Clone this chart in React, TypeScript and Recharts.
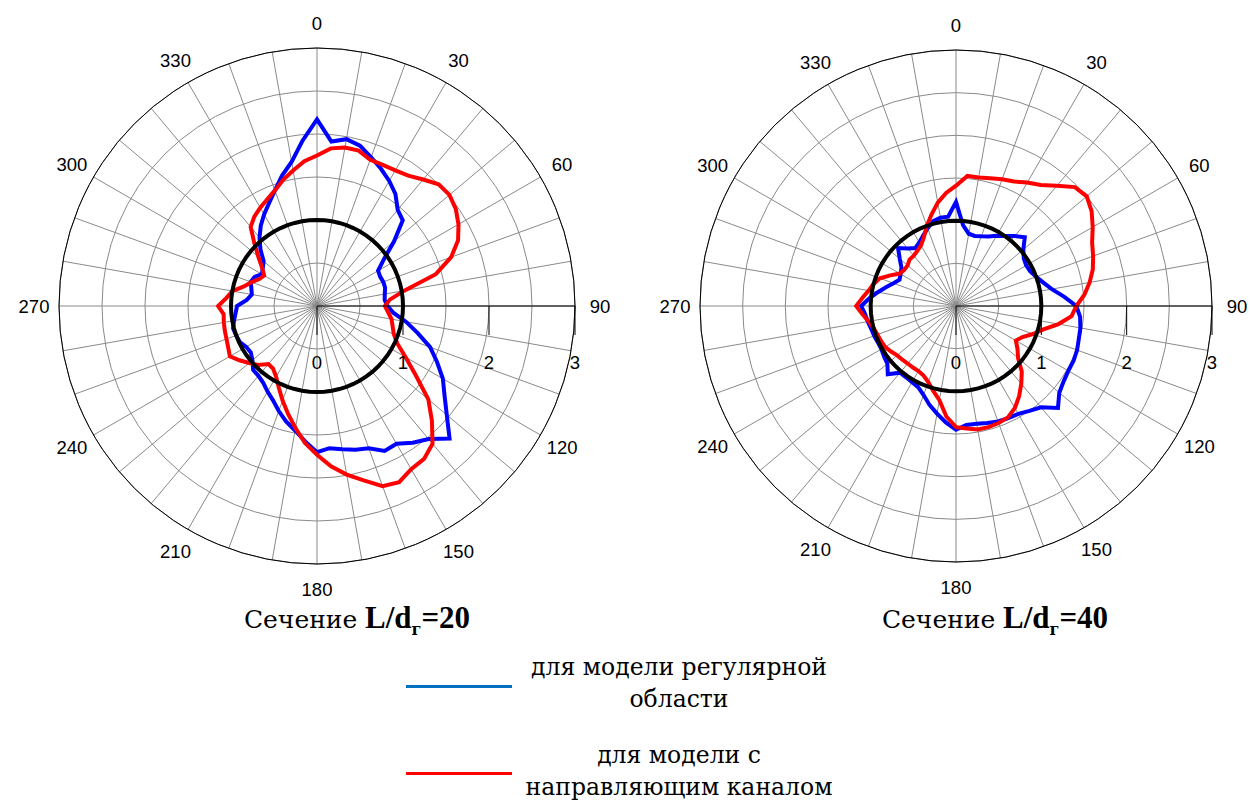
import React from "react";
import { RadarChart, Radar, PolarGrid, PolarAngleAxis, PolarRadiusAxis } from "recharts";

// angles, degrees clockwise from the top
const angles = [
  0, 5, 10, 15, 20, 25, 30, 35, 40, 45, 50, 55, 60, 65, 70, 75, 80, 85,
  90, 95, 100, 105, 110, 115, 120, 125, 130, 135, 140, 145, 150, 155, 160, 165, 170, 175,
  180, 185, 190, 195, 200, 205, 210, 215, 220, 225, 230, 235, 240, 245, 250, 255, 260, 265,
  270, 275, 280, 285, 290, 295, 300, 305, 310, 315, 320, 325, 330, 335, 340, 345, 350, 355,
];

const angleTicks = [0, 30, 60, 90, 120, 150, 180, 210, 240, 270, 300, 330];
const gridAngles = [0, 10, 20, 30, 40, 50, 60, 70, 80, 90, 100, 110, 120, 130, 140, 150, 160, 170,
  180, 190, 200, 210, 220, 230, 240, 250, 260, 270, 280, 290, 300, 310, 320, 330, 340, 350];
const radiusTicks = [0, 0.5, 1, 1.5, 2, 2.5, 3];
const unitLevel = 1;

// L/d = 20
const regular20 = [
  2.17, 1.92, 1.97, 1.93, 1.84, 1.76, 1.68, 1.59, 1.46, 1.41, 1.17, 0.95, 0.82, 0.81, 0.82, 0.82, 0.8, 0.79,
  0.82, 0.89, 1.05, 1.21, 1.4, 1.54, 1.69, 1.81, 1.97, 2.18, 2.02, 1.94, 1.85, 1.86, 1.76, 1.73, 1.69, 1.66,
  1.7, 1.58, 1.47, 1.39, 1.3, 1.21, 1.15, 1.09, 1.06, 1.05, 0.98, 0.94, 0.95, 0.99, 1.0, 1.01, 0.98, 0.95,
  0.93, 0.82, 0.77, 0.79, 0.82, 0.8, 0.74, 0.77, 0.81, 0.93, 1.04, 1.14, 1.23, 1.32, 1.43, 1.57, 1.7, 1.93,
];
const channel20 = [
  1.75, 1.84, 1.87, 1.87, 1.81, 1.81, 1.82, 1.85, 1.92, 2.0, 2.01, 1.97, 1.9, 1.81, 1.66, 1.43, 1.03, 0.85,
  0.79, 0.83, 0.88, 0.91, 0.95, 1.03, 1.19, 1.4, 1.69, 1.89, 2.09, 2.17, 2.19, 2.26, 2.23, 2.1, 1.99, 1.87,
  1.73, 1.6, 1.44, 1.3, 1.17, 1.05, 0.95, 0.89, 0.88, 0.97, 1.03, 1.1, 1.17, 1.14, 1.12, 1.11, 1.1, 1.09,
  1.15, 1.06, 1.0, 0.88, 0.81, 0.74, 0.71, 0.78, 0.89, 1.03, 1.2, 1.27, 1.32, 1.37, 1.43, 1.52, 1.6, 1.69,
];

// L/d = 40
const regular40 = [
  1.22, 0.95, 0.86, 0.85, 0.87, 0.9, 0.95, 1.0, 1.07, 1.14, 1.03, 0.97, 0.95, 0.96, 1.0, 1.06, 1.14, 1.27,
  1.41, 1.46, 1.48, 1.49, 1.51, 1.52, 1.52, 1.54, 1.58, 1.69, 1.55, 1.5, 1.46, 1.45, 1.44, 1.42, 1.4, 1.4,
  1.45, 1.37, 1.28, 1.2, 1.11, 1.05, 1.03, 1.02, 1.02, 1.13, 1.05, 1.03, 1.01, 1.01, 1.02, 1.03, 1.05, 1.07,
  1.11, 1.02, 0.93, 0.85, 0.78, 0.73, 0.75, 0.78, 0.86, 0.96, 0.88, 0.83, 0.86, 0.91, 0.97, 1.03, 1.05, 1.05,
];
const channel40 = [
  1.41, 1.53, 1.53, 1.55, 1.58, 1.61, 1.67, 1.73, 1.84, 1.97, 2.0, 1.94, 1.85, 1.76, 1.71, 1.66, 1.59, 1.51,
  1.41, 1.36, 1.22, 1.06, 0.96, 0.86, 0.81, 0.88, 0.95, 1.09, 1.19, 1.29, 1.38, 1.44, 1.46, 1.47, 1.47, 1.44,
  1.42, 1.3, 1.12, 1.03, 0.95, 0.9, 0.88, 0.88, 0.88, 0.89, 0.9, 0.93, 0.96, 0.97, 0.98, 1.0, 1.04, 1.1,
  1.17, 1.1, 1.04, 1.0, 0.95, 0.85, 0.76, 0.74, 0.74, 0.77, 0.77, 0.79, 0.82, 0.89, 1.0, 1.11, 1.23, 1.33,
];

const serif = "'Liberation Serif', 'Times New Roman', serif";
const cyrSerif = "'DejaVu Serif', 'Liberation Serif', serif";
const sans = "'Liberation Sans', Arial, sans-serif";

function buildRows(regular: number[], channel: number[]) {
  return angles.map((a, i) => ({ angle: a, regular: regular[i], channel: channel[i], unit: unitLevel }));
}

function makeAngleTick(cx: number, cy: number, r: number) {
  return (props: any) => {
    const v = props.payload.value;
    const rad = (v * Math.PI) / 180;
    const d = r + 25;
    return (
      <text
        x={cx + d * Math.sin(rad)}
        y={cy - d * Math.cos(rad)}
        textAnchor="middle"
        dominantBaseline="central"
        fontSize={18.5}
        fontFamily={sans}
        fill="#000"
      >
        {v}
      </text>
    );
  };
}

function RadiusTick(props: any) {
  const { x, y, payload } = props;
  if (!Number.isInteger(payload.value)) return <g />;
  return (
    <g>
      <line x1={x} y1={y} x2={x} y2={y + 29} stroke="#000" strokeWidth={1} />
      <text x={x} y={y + 56} textAnchor="middle" dominantBaseline="central" fontSize={18.5} fontFamily={sans} fill="#000">
        {payload.value}
      </text>
    </g>
  );
}

function Panel({ rows, left, width, cx, cy, radius }: any) {
  return (
    <div style={{ position: "absolute", left, top: 0 }}>
      <RadarChart
        width={width}
        height={600}
        data={rows}
        cx={cx}
        cy={cy}
        outerRadius={radius}
        innerRadius={0}
        startAngle={90}
        endAngle={-270}
        margin={{ top: 0, right: 0, bottom: 0, left: 0 }}
      >
        <PolarGrid gridType="circle" polarAngles={gridAngles} stroke="#8a8a8a" strokeWidth={1} />
        <PolarAngleAxis
          dataKey="angle"
          type="number"
          domain={[0, 360]}
          ticks={angleTicks}
          tick={makeAngleTick(cx, cy, radius)}
          tickLine={false}
          axisLineType="circle"
          axisLine={{ stroke: "#000", strokeWidth: 1 }}
        />
        <PolarRadiusAxis
          angle={0}
          type="number"
          domain={[0, 3]}
          ticks={radiusTicks}
          tick={<RadiusTick />}
          axisLine={{ stroke: "#000", strokeWidth: 1.2 }}
        />
        <Radar dataKey="regular" stroke="#0000ff" strokeWidth={4} fill="none" fillOpacity={0} dot={false} isAnimationActive={false} />
        <Radar dataKey="channel" stroke="#ff0000" strokeWidth={4} fill="none" fillOpacity={0} dot={false} isAnimationActive={false} />
        <Radar dataKey="unit" stroke="#000" strokeWidth={4} fill="none" fillOpacity={0} dot={false} isAnimationActive={false} />
      </RadarChart>
    </div>
  );
}

function Title({ x, value }: { x: number; value: string }) {
  return (
    <div
      style={{
        position: "absolute",
        left: x,
        top: 601,
        transform: "translateX(-50%)",
        whiteSpace: "nowrap",
        fontFamily: serif,
        fontSize: 31,
        lineHeight: "34px",
        color: "#000",
      }}
    >
      <span style={{ fontFamily: cyrSerif, fontSize: 25 }}>Сечение</span>{" "}
      <b>L/d<sub style={{ fontFamily: cyrSerif, fontSize: 16 }}>г</sub>={value}</b>
    </div>
  );
}

const legendText: React.CSSProperties = {
  position: "absolute",
  left: 679,
  transform: "translateX(-50%)",
  whiteSpace: "nowrap",
  textAlign: "center",
  fontFamily: cyrSerif,
  fontSize: 23.5,
  lineHeight: "32px",
  color: "#000",
};

export default function App() {
  return (
    <div style={{ position: "absolute", left: 0, top: 0, width: 1250, height: 802, background: "#fff", overflow: "hidden" }}>
      <Panel rows={buildRows(regular20, channel20)} left={0} width={640} cx={317} cy={306} radius={258} />
      <Panel rows={buildRows(regular40, channel40)} left={640} width={610} cx={316} cy={306} radius={256} />
      <Title x={357} value="20" />
      <Title x={995} value="40" />
      <div style={{ position: "absolute", left: 406, top: 685, width: 106, height: 3, background: "#0070c0" }} />
      <div style={{ position: "absolute", left: 406, top: 772, width: 106, height: 3, background: "#ff0000" }} />
      <div style={{ ...legendText, top: 651 }}>
        для модели регулярной
        <br />
        области
      </div>
      <div style={{ ...legendText, top: 739 }}>
        для модели с
        <br />
        направляющим каналом
      </div>
    </div>
  );
}
